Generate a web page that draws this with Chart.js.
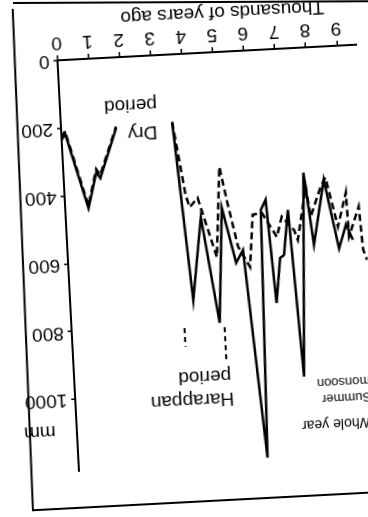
<!DOCTYPE html>
<html>
<head>
<meta charset="utf-8">
<script src="https://cdn.jsdelivr.net/npm/chart.js@4.4.1/dist/chart.umd.min.js"></script>
<style>
  html, body { margin: 0; padding: 0; background: #fff; overflow: hidden; }
  #wrap { position: relative; width: 368px; height: 517px; }
  /* the scan is upside down and a little skewed */
  #grafico { display: block; transform: rotate(177deg); transform-origin: 50% 50%; }
  #borda { position: absolute; left: 13px; top: 2px; width: 355px; height: 2px; background: #000; transform: rotate(-0.3deg); transform-origin: 0 0; }
</style>
</head>
<body>
<div id="wrap"><canvas id="grafico" width="368" height="517"></canvas><div id="borda"></div></div>
<script>
// thousands of years ago / rainfall in mm
const yearTicks = [0, 1, 2, 3, 4, 5, 6, 7, 8, 9]
const mmTicks = [0, 200, 400, 600, 800, 1000]

const dryAges = [0, 0.12, 0.26, 0.75, 1.06, 1.18, 1.77]
const dryWholeYear = [235, 216, 266, 440, 335, 353, 208]
const drySummer = [228, 210, 258, 432, 326, 344, 204]

const wholeYearAges = [3.58, 3.96, 4.34, 4.77, 5.03, 5.40, 5.64, 6.08, 6.28, 6.45, 6.63, 6.82, 6.95, 7.15, 7.39, 7.71, 7.93, 8.35, 8.73, 8.99, 9.19]
const wholeYear = [199, 726, 483, 797, 459, 623, 586, 1200, 471, 442, 747, 615, 607, 475, 968, 368, 582, 392, 597, 527, 573]

const summerAges = [3.58, 3.89, 4.00, 4.27, 4.79, 5.02, 5.20, 5.49, 5.84, 6.01, 6.31, 6.75, 6.94, 7.31, 7.42, 7.76, 7.87, 8.24, 8.41, 8.73, 9.04, 9.07, 9.43, 9.50, 9.61]
const summerMonsoon = [199, 416, 452, 426, 603, 338, 436, 576, 637, 484, 480, 553, 494, 535, 565, 410, 499, 412, 386, 532, 433, 563, 476, 603, 634]

const harappanAges = [3.63, 4.92]
const harappanTop = [807, 810]
const harappanBottom = [862, 913]

function pontos(xs, ys) {
  return xs.map((v, i) => ({ x: v, y: ys[i] }))
}

const fonte = '"Liberation Sans", Arial, sans-serif'

function linha(data, dash) {
  return {
    data: data,
    borderColor: '#000',
    borderWidth: 2.5,
    borderDash: dash,
    pointRadius: 0,
    tension: 0,
    fill: false
  }
}

let datasets = [
  linha(pontos(dryAges, dryWholeYear), []),
  linha(pontos(dryAges, drySummer), [7, 4]),
  linha(pontos(wholeYearAges, wholeYear), []),
  linha(pontos(summerAges, summerMonsoon), [7, 4])
]

harappanAges.forEach((a, i) => {
  let d = linha([{ x: a, y: harappanTop[i] }, { x: a, y: harappanBottom[i] }], [5, 4])
  d.borderWidth = 2
  datasets.push(d)
})

const textos = {
  id: 'textos',
  afterDraw(chart) {
    const { ctx, chartArea } = chart
    const x = chart.scales.x
    const y = chart.scales.y
    ctx.save()
    ctx.fillStyle = '#000'
    ctx.textBaseline = 'middle'

    ctx.font = '19px ' + fonte
    ctx.textAlign = 'left'
    ctx.fillText('Dry', x.getPixelForValue(3.09), y.getPixelForValue(224))
    ctx.fillText('period', x.getPixelForValue(3.12), y.getPixelForValue(143))
    ctx.fillText('Harappan', x.getPixelForValue(5.11), y.getPixelForValue(1019))
    ctx.fillText('period', x.getPixelForValue(5.05), y.getPixelForValue(953))

    ctx.textAlign = 'center'
    ctx.fillText('mm', chartArea.right + 37, y.getPixelForValue(1090))
    ctx.fillText('Thousands of years ago', 133, 503)

    ctx.textAlign = 'right'
    ctx.font = '14px ' + fonte
    ctx.fillText('Whole year', x.getPixelForValue(7.24), y.getPixelForValue(1110))
    ctx.font = '13px ' + fonte
    ctx.fillText('Summer', x.getPixelForValue(7.93), y.getPixelForValue(1035))
    ctx.fillText('monsoon', x.getPixelForValue(7.79), y.getPixelForValue(989))

    // moldura da figura
    ctx.strokeStyle = '#000'
    ctx.lineWidth = 2
    ctx.beginPath()
    ctx.moveTo(0, 15)
    ctx.lineTo(348, 15)
    ctx.lineTo(342, 517)
    ctx.stroke()
    ctx.restore()
  }
}

new Chart(document.getElementById('grafico'), {
  type: 'line',
  data: { datasets: datasets },
  plugins: [textos],
  options: {
    responsive: false,
    animation: false,
    layout: { padding: { top: 52, left: 0, right: 0, bottom: 0 } },
    plugins: { legend: { display: false }, tooltip: { enabled: false } },
    scales: {
      x: {
        type: 'linear',
        position: 'bottom',
        reverse: true,
        min: 0,
        max: 9.65,
        afterBuildTicks: (axis) => { axis.ticks = yearTicks.map(v => ({ value: v })) },
        afterFit: (axis) => { axis.height = 54 },
        grid: { drawOnChartArea: false, color: '#000', tickLength: 5, lineWidth: 1.5 },
        border: { color: '#000', width: 2 },
        ticks: { color: '#000', font: { size: 19, family: fonte }, padding: 1, maxRotation: 0, autoSkip: false, callback: (v) => String(v) }
      },
      y: {
        type: 'linear',
        position: 'right',
        min: 0,
        max: 1210,
        afterBuildTicks: (axis) => { axis.ticks = mmTicks.map(v => ({ value: v })) },
        afterFit: (axis) => { axis.width = 68 },
        grid: { drawOnChartArea: false, color: '#000', tickLength: 4, lineWidth: 1.5 },
        border: { color: '#000', width: 2 },
        ticks: { color: '#000', font: { size: 19, family: fonte }, padding: 4, callback: (v) => String(v) }
      }
    }
  }
})
</script>
</body>
</html>
